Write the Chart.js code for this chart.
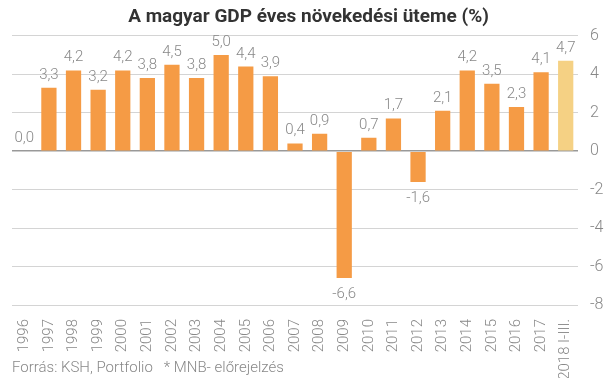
<!DOCTYPE html>
<html><head><meta charset="utf-8">
<script src="https://cdn.jsdelivr.net/npm/chart.js@4.4.0/dist/chart.umd.min.js"></script>
<style>html,body{margin:0;padding:0;background:#fff}#wrap{width:605px;height:378px}</style>
</head><body><div id="wrap"><canvas id="c"></canvas></div>
<script>
const categories = ['1996','1997','1998','1999','2000','2001','2002','2003','2004','2005','2006','2007','2008','2009','2010','2011','2012','2013','2014','2015','2016','2017','2018 I-III.'];
const growth = [0.0,3.3,4.2,3.2,4.2,3.8,4.5,3.8,5.0,4.4,3.9,0.4,0.9,-6.6,0.7,1.7,-1.6,2.1,4.2,3.5,2.3,4.1,4.7];
const yTicks = [-8,-6,-4,-2,0,2,4,6];
const titleText = 'A magyar GDP éves növekedési üteme (%)';
const footerText = 'Forrás: KSH, Portfolio   * MNB- előrejelzés';

const barColors = growth.map((v,i)=> i===growth.length-1 ? '#F5D184' : '#F59B45');

const labelPlugin = {
  id:'vals',
  afterDatasetsDraw(chart){
    const ctx = chart.ctx;
    const meta = chart.getDatasetMeta(0);
    ctx.save();
    ctx.font = '300 15px Roboto';
    ctx.fillStyle = '#888';
    ctx.textAlign = 'center';
    meta.data.forEach((bar,i)=>{
      const v = growth[i];
      const txt = v.toFixed(1).replace('.',',');
      if (v >= 0) { ctx.textBaseline='alphabetic'; ctx.fillText(txt, bar.x, bar.y-9); }
      else { ctx.textBaseline='top'; ctx.fillText(txt, bar.x, bar.y+9); }
    });
    ctx.restore();
  },
  afterDraw(chart){
    const ctx = chart.ctx;
    ctx.save();
    ctx.font = '300 15px Roboto';
    ctx.fillStyle = '#888';
    ctx.textAlign='left'; ctx.textBaseline='alphabetic';
    ctx.fillText(footerText, 12, 372);
    ctx.restore();
  }
};

new Chart(document.getElementById('c'), {
  type:'bar',
  data:{labels:categories, datasets:[{data:growth, backgroundColor:barColors, barPercentage:0.62, categoryPercentage:1.0}]},
  options:{
    responsive:true, maintainAspectRatio:false, animation:false,
    layout:{padding:{left:12,right:0,top:0,bottom:0}},
    plugins:{
      legend:{display:false}, tooltip:{enabled:false},
      title:{display:true, text:titleText, font:{family:'Roboto', size:19, weight:'bold'}, color:'#333', padding:{top:6,bottom:7}}
    },
    scales:{
      x:{grid:{display:false}, border:{display:false},
         afterFit(ax){ ax.height = 73; },
         ticks:{color:'#888', font:{family:'Roboto', size:15, weight:300}, minRotation:90, maxRotation:90, autoSkip:false, padding:6}},
      y:{position:'right', min:-8, max:6,
         afterBuildTicks(ax){ ax.ticks = yTicks.map(v=>({value:v})); },
         afterFit(ax){ ax.width = 27; },
         grid:{color:(c)=> c.tick && c.tick.value===0 ? '#999' : '#d4d4d4', lineWidth:(c)=> c.tick && c.tick.value===0 ? 1.5 : 1, drawTicks:false},
         border:{display:false},
         ticks:{color:'#888', font:{family:'Roboto', size:16, weight:300}, padding:12}}
    }
  },
  plugins:[labelPlugin]
});
</script></body></html>
